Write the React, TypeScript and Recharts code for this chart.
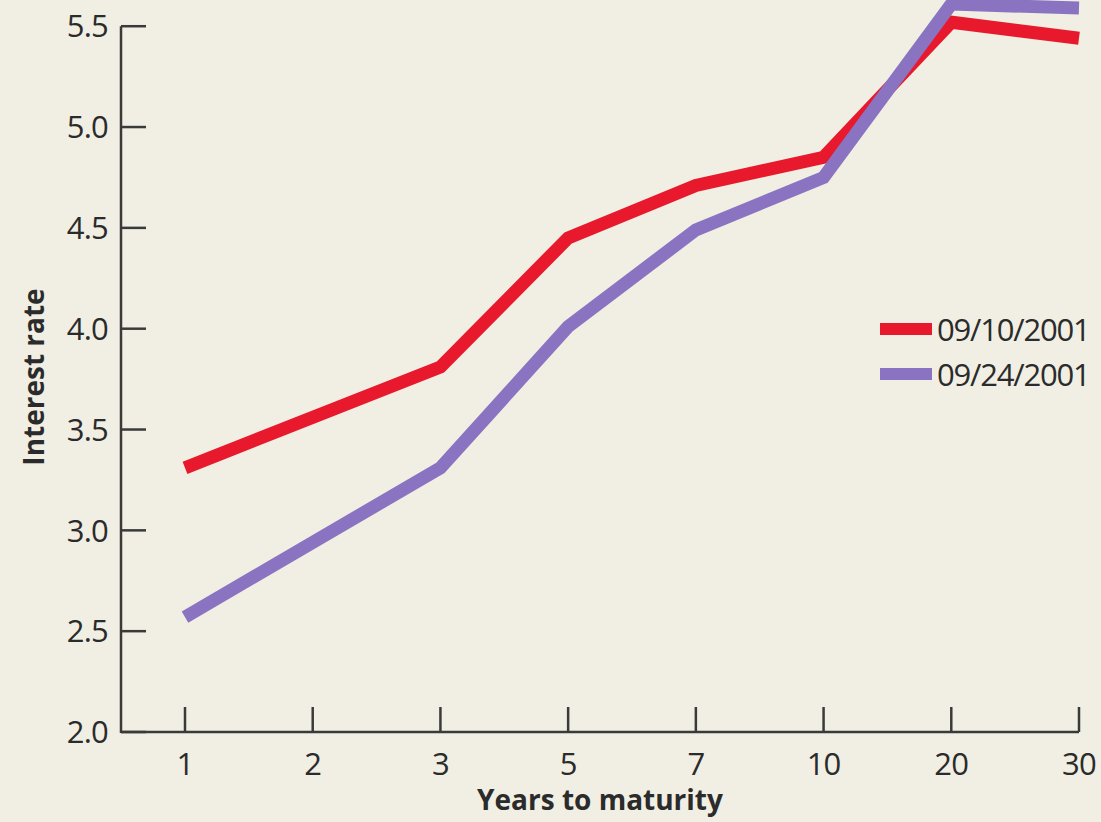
import { LineChart, Line, XAxis, YAxis, Legend, Label } from "recharts";

const maturities = ["1", "2", "3", "5", "7", "10", "20", "30"];
const rateSep10 = [3.31, null, 3.81, 4.45, 4.71, 4.85, 5.52, 5.44];
const rateSep24 = [2.57, null, 3.31, 4.01, 4.49, 4.75, 5.61, 5.59];
const yTicks = [2.0, 2.5, 3.0, 3.5, 4.0, 4.5, 5.0, 5.5];

const data = maturities.map((m, i) => ({
  years: m,
  sep10: rateSep10[i],
  sep24: rateSep24[i],
}));

const FONT = '"Liberation Sans Narrow", "Open Sans", sans-serif';
const INK = "#2b2b2b";
const AXIS = "#3a3a3a";
const RED = "#e8192c";
const PURPLE = "#8a74c2";

const W = 1101;
const H = 822;
const AXIS_BOTTOM = 90;
const Y_MIN = 2;
const Y_MAX = 5.63;
const PX_PER_UNIT = (H - AXIS_BOTTOM) / (Y_MAX - Y_MIN);

const YTick = (props: any) => {
  const { x, y, payload } = props;
  const v = payload.value as number;
  return (
    <g>
      <line x1={x} x2={x + 25} y1={y} y2={y} stroke={AXIS} strokeWidth={2.5} />
      {v === Y_MIN && (
        <line
          x1={x}
          x2={x}
          y1={y + 1}
          y2={y - (yTicks[yTicks.length - 1] - Y_MIN) * PX_PER_UNIT}
          stroke={AXIS}
          strokeWidth={2.5}
        />
      )}
      <text x={x - 13} y={y} dy="0.36em" textAnchor="end" fill={INK} fontSize={31} fontFamily={FONT} letterSpacing={-0.8}>
        {v.toFixed(1)}
      </text>
    </g>
  );
};

const XTick = (props: any) => {
  const { x, y, payload } = props;
  return (
    <g>
      <line x1={x} x2={x} y1={y} y2={y - 25} stroke={AXIS} strokeWidth={2.5} />
      <text x={x} y={y + 43} textAnchor="middle" fill={INK} fontSize={31} fontFamily={FONT} letterSpacing={-0.8}>
        {payload.value}
      </text>
    </g>
  );
};

const YTitle = (props: any) => {
  const { viewBox } = props;
  const cx = 33;
  const cy = viewBox.y + viewBox.height / 2 + 11;
  return (
    <text
      x={cx}
      y={cy}
      transform={`rotate(-90, ${cx}, ${cy})`}
      textAnchor="middle"
      dominantBaseline="central"
      fill={INK}
      fontSize={28}
      fontWeight="bold"
      fontFamily={FONT}
    >
      Interest rate
    </text>
  );
};

const LegendBox = (props: any) => {
  const { payload } = props;
  return (
    <div>
      {(payload || []).map((p: any) => (
        <div key={p.value} style={{ display: "flex", alignItems: "center", height: 45 }}>
          <div style={{ width: 52, height: 12, background: p.color, marginRight: 5 }} />
          <span style={{ fontSize: 31, fontFamily: FONT, color: INK, letterSpacing: -1.2 }}>{p.value}</span>
        </div>
      ))}
    </div>
  );
};

export default function App() {
  return (
    <div style={{ position: "absolute", left: 0, top: 0, width: W, height: H, background: "#f1efe3" }}>
      <LineChart width={W} height={H} data={data} margin={{ top: 0, right: 22, bottom: 0, left: 0 }}>
        <XAxis
          dataKey="years"
          height={AXIS_BOTTOM}
          padding={{ left: 64, right: 0 }}
          tickSize={0}
          tickMargin={0}
          tick={<XTick />}
          interval={0}
          stroke={AXIS}
          strokeWidth={2.5}
        >
          <Label
            value="Years to maturity"
            position="insideBottom"
            offset={12}
            fill={INK}
            fontSize={28}
            fontWeight="bold"
            fontFamily={FONT}
          />
        </XAxis>
        <YAxis
          width={121}
          domain={[Y_MIN, Y_MAX]}
          ticks={yTicks}
          axisLine={false}
          tickSize={0}
          tickMargin={0}
          tick={<YTick />}
          interval={0}
        >
          <Label content={<YTitle />} />
        </YAxis>
        <Legend
          content={<LegendBox />}
          layout="vertical"
          align="center"
          verticalAlign="middle"
          wrapperStyle={{ position: "absolute", left: 880, top: 306, width: 220 }}
        />
        <Line
          dataKey="sep10"
          name="09/10/2001"
          stroke={RED}
          strokeWidth={13}
          dot={false}
          connectNulls
          isAnimationActive={false}
          legendType="rect"
        />
        <Line
          dataKey="sep24"
          name="09/24/2001"
          stroke={PURPLE}
          strokeWidth={13}
          dot={false}
          connectNulls
          isAnimationActive={false}
          legendType="rect"
        />
      </LineChart>
    </div>
  );
}
